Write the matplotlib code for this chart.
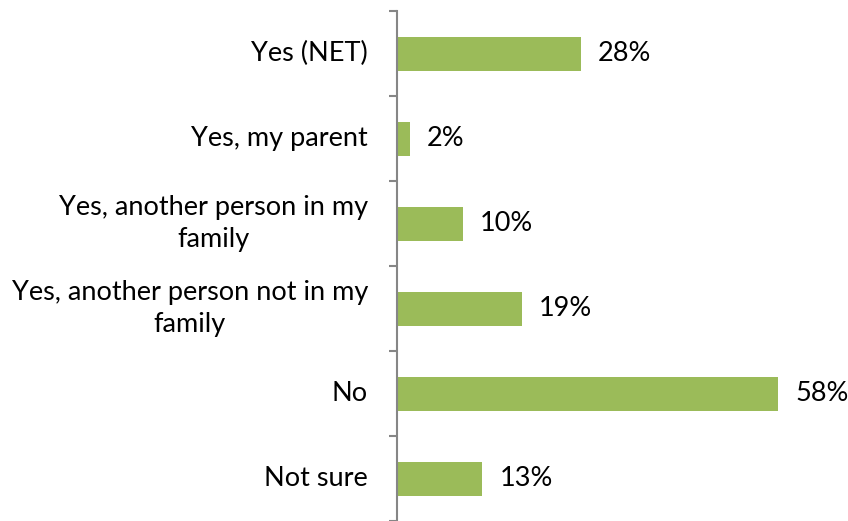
import matplotlib.pyplot as plt
import numpy as np

categories = ["Yes (NET)", "Yes, my parent", "Yes, another person in my\nfamily",
              "Yes, another person not in my\nfamily", "No", "Not sure"]
values = [28, 2, 10, 19, 58, 13]
bar_color = "#9BBB59"
axis_color = "#868686"

plt.rcParams['font.family'] = ['Lato', 'DejaVu Sans']
px = 72 / 100  # pixels -> points

fig = plt.figure(figsize=(8.48, 5.21), dpi=100)
ax = fig.add_axes([397 / 848, 0, (848 - 397) / 848, 510 / 521])

y = np.arange(len(categories))
ax.barh(y, values, height=0.4, color=bar_color)
ax.set_xlim(0, 68.6)
ax.set_ylim(len(categories) - 0.5, -0.5)

for yi, v in zip(y, values):
    ax.annotate(f"{v}%", (v, yi), xytext=(17 * px, 0), textcoords="offset points",
                va="center", ha="left", fontsize=19.5, color="black")

# category labels, right aligned, lines centred
for yi, c in zip(y, categories):
    ax.annotate(c, (0, yi), xytext=(-29 * px, 0), textcoords="offset points",
                va="center", ha="right", multialignment="center",
                fontsize=19.5, color="black", linespacing=1.36)

ax.set_yticks(np.arange(-0.5, len(categories), 1))
ax.set_yticklabels([])
ax.tick_params(axis="y", length=8 * px, width=1.5, color=axis_color, direction="out")
ax.set_xticks([])
for s in ["top", "right", "bottom"]:
    ax.spines[s].set_visible(False)
ax.spines["left"].set_color(axis_color)
ax.spines["left"].set_linewidth(1.5)
ax.patch.set_visible(False)

fig.savefig("out.png", dpi=100)
